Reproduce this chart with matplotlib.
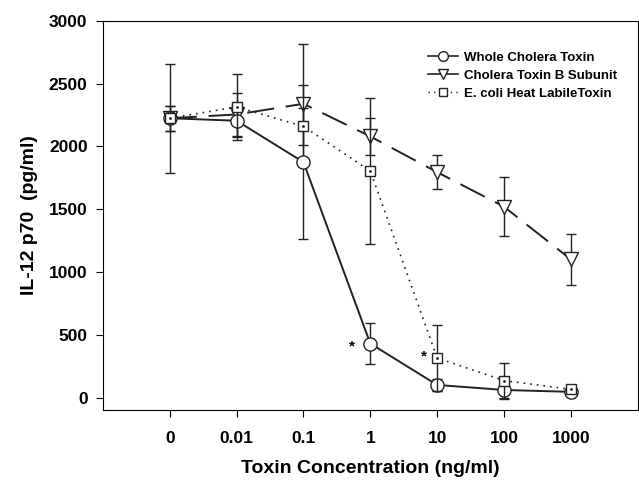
import numpy as np
import matplotlib
matplotlib.use('Agg')
import matplotlib.pyplot as plt
from matplotlib.lines import Line2D

plt.rcParams['font.family'] = ['Liberation Sans', 'DejaVu Sans']
plt.rcParams['font.weight'] = 'bold'

# data
conc_labels = ['0', '0.01', '0.1', '1', '10', '100', '1000']

whole_ct = [2225, 2205, 1875, 430, 100, 60, 45]
whole_ct_err = [435, 130, 615, 165, 50, 60, 20]

ctb = [2225, 2255, 2340, 2080, 1795, 1520, 1100]
ctb_err = [100, 170, 475, 150, 137, 233, 206]

lt = [2225, 2315, 2160, 1805, 315, 135, 65]
lt_err = [100, 262, 150, 585, 262, 143, 25]

star_x = [2.72, 3.8]
star_y = [410, 325]

x = np.arange(len(conc_labels))
ink = '#222222'

fig = plt.figure(figsize=(6.39, 4.87), dpi=100)
ax = fig.add_axes([0.161, 0.158, 0.837, 0.799])

ctb_ls = (0, (14, 6))
lt_ls = (0, (1, 3))

ax.errorbar(x, ctb, yerr=ctb_err, color=ink, lw=1.4, ls=ctb_ls,
            marker='v', ms=10, mfc='white', mec=ink, mew=1.0,
            capsize=3.5, elinewidth=1.0, capthick=1.0, zorder=2)
ax.errorbar(x, whole_ct, yerr=whole_ct_err, color=ink, lw=1.4, ls='-',
            marker='o', ms=9.5, mfc='white', mec=ink, mew=1.0,
            capsize=3.5, elinewidth=1.0, capthick=1.0, zorder=3)
ax.errorbar(x, lt, yerr=lt_err, color=ink, lw=1.2, ls=lt_ls,
            marker='s', ms=7.5, mfc='white', mec=ink, mew=1.0,
            capsize=3.5, elinewidth=1.0, capthick=1.0, zorder=4)
ax.plot(x, lt, ls='none', marker='.', ms=2, color=ink, zorder=5)

for sx, sy in zip(star_x, star_y):
    ax.text(sx, sy, '*', ha='center', va='center', fontsize=11, fontweight='bold')

ax.set_xlim(-1, 7)
ax.set_ylim(-100, 3000)
ax.set_xticks(x)
ax.set_xticklabels(conc_labels)
ax.set_yticks(np.arange(0, 3001, 500))
ax.tick_params(direction='out', length=5, width=0.8, labelsize=12.5, pad=6)
ax.tick_params(axis='x', pad=10)
for lab in ax.get_xticklabels() + ax.get_yticklabels():
    lab.set_fontweight('bold')

ax.set_xlabel('Toxin Concentration (ng/ml)', fontsize=14, fontweight='bold', labelpad=10)
ax.set_ylabel('IL-12 p70  (pg/ml)', fontsize=14, fontweight='bold', labelpad=8)

handles = [
    Line2D([], [], color=ink, lw=1.2, ls='-', marker='o', ms=7, mfc='white', mec=ink),
    Line2D([], [], color=ink, lw=1.2, ls='-', marker='v', ms=7.5, mfc='white', mec=ink),
    Line2D([], [], color=ink, lw=1.0, ls=lt_ls, marker='s', ms=6, mfc='white', mec=ink),
]
names = ['Whole Cholera Toxin', 'Cholera Toxin B Subunit', 'E. coli Heat LabileToxin']
leg = ax.legend(handles, names, loc='upper left', bbox_to_anchor=(0.607, 0.922),
                frameon=False, fontsize=9.5, handlelength=2.3, handletextpad=0.5,
                labelspacing=0.45, borderpad=0, borderaxespad=0)
for t in leg.get_texts():
    t.set_fontweight('bold')

fig.savefig('out.png', dpi=100)
